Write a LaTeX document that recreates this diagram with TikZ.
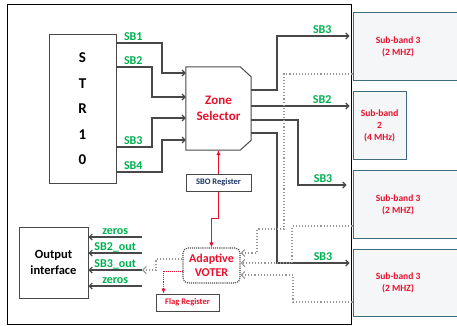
\documentclass[tikz,border=0pt]{standalone}
\usepackage{fontspec}
\setmainfont{Carlito}
\usepackage{tikz}
\usetikzlibrary{arrows.meta,positioning,calc}
\usepackage{xcolor}
\definecolor{sbgreen}{RGB}{0,176,80}
\definecolor{zonered}{RGB}{232,16,44}
\definecolor{regblue}{RGB}{31,56,100}
\definecolor{bandedge}{RGB}{62,108,128}
\definecolor{bandfill}{RGB}{245,246,248}
\definecolor{wiregrey}{RGB}{72,72,72}
\definecolor{dotgrey}{RGB}{150,150,150}

\begin{document}
\begin{tikzpicture}[x=1pt, y=-1pt, every node/.style={font=\bfseries, inner sep=0pt},
    blk/.style={draw=wiregrey, line width=1pt, fill=white, align=center},
    band/.style={draw=bandedge, line width=1.2pt, fill=bandfill, anchor=north west},
    bandtxt/.style={text=zonered, align=center, font=\fontsize{9.5}{12}\selectfont\bfseries},
    sblbl/.style={text=sbgreen, anchor=base, yshift=2.5pt, font=\fontsize{12}{12}\selectfont\bfseries},
    wire/.style={draw=wiregrey, line width=1.1pt, -{Straight Barb[length=3pt,width=6pt]}},
    dotwire/.style={draw=dotgrey, line width=1.1pt, dotted, -{Straight Barb[length=3.5pt,width=7pt]}},
    redwire/.style={draw=zonered, line width=0.9pt, -{Latex[length=5pt,width=4.5pt]}}]
    \clip (0,0) rectangle (457,326);
    \node[draw=black, line width=1.4pt, minimum width=343.5pt, minimum height=320pt,
          anchor=north west] (board) at (7,4) {};
    \node[band, minimum width=120pt, minimum height=68pt] (band1) at (352.5,12) {};
    \node[bandtxt] (band1txt) at ([xshift=-15pt]band1.center) {Sub-band 3\\(2 MHZ)};
    \node[band, bandtxt, minimum width=53pt, minimum height=68pt] (band2) at (352.5,91)
          {Sub-band\\2\\(4 MHz)};
    \node[band, minimum width=120pt, minimum height=68pt] (band3) at (352.5,170) {};
    \node[bandtxt] (band3txt) at ([xshift=-15pt]band3.center) {Sub-band 3\\(2 MHZ)};
    \node[band, minimum width=120pt, minimum height=67pt] (band4) at (352.5,249) {};
    \node[bandtxt] (band4txt) at ([xshift=-15pt]band4.center) {Sub-band 3\\(2 MHZ)};

    \node[blk, minimum width=67pt, minimum height=149pt,
          font=\fontsize{15}{25.5}\selectfont\bfseries] (str) at (82.5,109) {S\\T\\R\\1\\0};
    \node[minimum width=65pt, minimum height=83pt, align=center, text=zonered,
          font=\fontsize{13}{16}\selectfont\bfseries] (zone) at (218.5,108.5) {Zone\\Selector};
    \draw[wiregrey, line width=1pt] (zone.north west) -- ([xshift=-11pt]zone.north east)
          -- ([yshift=-10pt]zone.north east) -- ([yshift=10pt]zone.south east)
          -- ([xshift=-11pt]zone.south east) -- (zone.south west) -- cycle;
    \node[blk, minimum width=65pt, minimum height=17pt, text=regblue,
          font=\fontsize{8.5}{10}\selectfont\bfseries] (sbo) at (218.5,182.5) {SBO Register};
    \node[draw=wiregrey, line width=1.1pt, densely dotted, rounded corners=5pt,
          minimum width=57pt, minimum height=35pt, align=center, text=zonered,
          font=\fontsize{12}{14}\selectfont\bfseries] (voter) at (211.5,265.5) {Adaptive\\VOTER};
    \node[blk, minimum width=63pt, minimum height=17pt, text=zonered,
          font=\fontsize{8.5}{10}\selectfont\bfseries] (flag) at (187.5,302.5) {Flag Register};
    \node[blk, minimum width=69pt, minimum height=71pt,
          font=\fontsize{12.5}{16}\selectfont\bfseries] (outif) at (53.5,262.5) {Output\\interface};

    \draw[wire] (str.east |- 0,43) node[sblbl, anchor=base west, xshift=7pt] {SB1}
          -| (162,73) -- (zone.west |- 0,73);
    \draw[wire] (str.east |- 0,67) node[sblbl, anchor=base west, xshift=7pt] {SB2}
          -| (152,97) -- (zone.west |- 0,97);
    \draw[wire] (str.east |- 0,147) node[sblbl, anchor=base west, xshift=7pt] {SB3}
          -| (152,118) -- (zone.west |- 0,118);
    \draw[wire] (str.east |- 0,172) node[sblbl, anchor=base west, xshift=7pt] {SB4}
          -| (162,140) -- (zone.west |- 0,140);

    \draw[wire, shorten >=3pt] (zone.east |- 0,90) -| (277,36)
          -- node[sblbl, pos=0.6] {SB3} (band1.west |- 0,36);
    \draw[wire, shorten >=3pt] (zone.east |- 0,106)
          -- node[sblbl, pos=0.7] {SB2} (band2.west |- 0,106);
    \draw[wire, shorten >=6pt] (zone.east |- 0,120) -| (298,185)
          -- node[sblbl, pos=0.46] {SB3} (band3.west |- 0,185);
    \draw[wire, shorten >=3pt] (zone.east |- 0,133) -| (277,263)
          -- node[sblbl, pos=0.61] {SB3} (band4.west |- 0,263);

    \draw[redwire] (sbo.north) -- (zone.south);
    \draw[redwire] (sbo.south) -- ++(0,27) -| (voter.north);
    \draw[redwire, densely dotted] (voter.west |- 0,271) -| ([xshift=8pt]flag.north west);

    \draw[dotwire] (band1.west |- 0,74) -| (284,229) -| (257,253) -- (voter.east |- 0,253);
    \draw[dotwire] (band3.west |- 0,226) -| (292,263) -- (voter.east |- 0,263);
    \draw[dotwire] (band4.west |- 0,302) -| (293,275) -- (voter.east |- 0,275);

    \coordinate (zeroa) at (142,237);
    \coordinate (sbtwoout) at (142,253);
    \coordinate (sbthreeout) at (142,270);
    \coordinate (zerob) at (142,286);
    \draw[dotwire] (voter.west |- 0,259) -| (156,270) -- (sbthreeout);
    \draw[wire] (zeroa) -- node[sblbl] {zeros} (outif.east |- zeroa);
    \draw[wire] (sbtwoout) -- node[sblbl] {SB2\_out} (outif.east |- sbtwoout);
    \draw[wire] (sbthreeout) -- node[sblbl] {SB3\_out} (outif.east |- sbthreeout);
    \draw[wire] (zerob) -- node[sblbl] {zeros} (outif.east |- zerob);
\end{tikzpicture}
\end{document}
